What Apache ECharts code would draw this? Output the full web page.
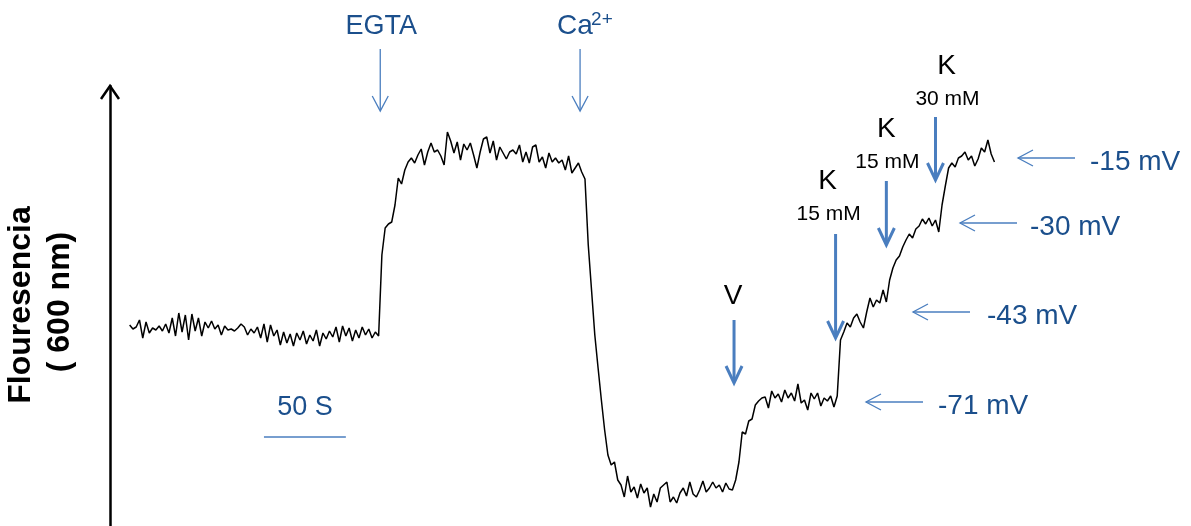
<!DOCTYPE html>
<html><head><meta charset="utf-8">
<script src="https://cdn.jsdelivr.net/npm/echarts@6/dist/echarts.min.js"></script>
<style>html,body{margin:0;padding:0;background:#fff}#c{width:1191px;height:526px}</style>
</head><body><div id="c"></div>
<script>
// ---- Data (fluorescence, arbitrary units; one sample every 2 s) ----
const sampleStart = 12;   // s
const sampleStep = 2;     // s
const baseline = [201,197,199,206,188,204,193,198,196,200,
  195,202,193,208,190,213,194,211,186,212,
  195,208,190,204,198,205,197,201,191,200,
  196,197,195,198,202,199,191,197,193,199,
  188,202,184,201,190,196,181,194,183,192,
  180,193,186,195,182,191,185,196,180,193,
  187,195,189,199,184,200,190,198,185,196,
  188,199,191,197,188,194,190];
const egtaRise = [271,298,302,304,321,348,342,356,364];
const egtaPlateau = [368,363,371,377,361,374,383,374,376,370,
  361,394,385,373,384,366,382,376,383,371,
  358,374,387,389,373,385,366,379,373,367,
  374,376,372,381,364,374,363,379,381,364,
  369,358,373,364,368,363,366,356,370,353,
  358,363,354];
const calciumDrop = [347,281,236,191,158,126,96,71,61,64,46,41,29];
const lowPlateau = [50,34,39,28,42,33,38,19,32,24,
  38,41,44,24,29,23,33,38,30,44,
  32,29,36,45,34,38,44,38,41,34,
  43,37,36,46];
const valinoRise = [64,94,92,105,107,121,125,128,129];
const restPlateau = [118,135,128,132,124,136,128,133,125,142,
  123,126,116,133,127,133,120,128,125,130,
  119,130];
const potassiumSteps = [186,194,203,199,208,212,204,198,214,228,
  219,226,223,236,224,246,258,266,270,279,
  286,292,288,297,300,307,302,308,300,306,
  294];
const potassiumTop = [321,340,358,363,359,368,370,374,366,370,
  360,367,378,374,386,372,364];

// event annotations (time in s)
const eventLabels = ['EGTA', 'Ca', 'V', 'K', 'K', 'K'];
const eventSub = ['', '2+', '', '15 mM', '15 mM', '30 mM'];
const eventTimes = [165, 287, 381, 443, 474, 504];
// membrane potential readings (fluorescence level of each plateau)
const potentialLabels = ['-71 mV', '-43 mV', '-30 mV', '-15 mV'];
const potentialLevels = [124, 214, 303, 368];
const scaleBarStart = 94, scaleBarLength = 50; // s
const scaleBarLabel = '50 S';
const yTitle = ['Flouresencia', '( 600 nm)'];

const trace = [].concat(baseline, egtaRise, egtaPlateau, calciumDrop, lowPlateau,
  valinoRise, restPlateau, potassiumSteps, potassiumTop);
const seriesData = trace.map((v, i) => [sampleStart + sampleStep * i, v]);

const FONT = '"Liberation Sans", Arial, sans-serif';
const TXT_BLUE = '#1b4f8c';
const ARR_BLUE = '#4a7ebf';

const chart = echarts.init(document.getElementById('c'), null, {renderer: 'canvas'});
chart.setOption({
  animation: false,
  grid: {left: 110, right: 0, top: 86, bottom: 0},
  xAxis: {type: 'value', min: 0, max: 660, show: false},
  yAxis: {type: 'value', min: 0, max: 440,
    axisLine: {show: true, onZero: false, lineStyle: {color: '#000', width: 2.5}},
    axisTick: {show: false}, axisLabel: {show: false}, splitLine: {show: false}},
  series: [{type: 'line', data: seriesData, showSymbol: false, silent: true,
    lineStyle: {color: '#000', width: 1.5}}]
});

const P = (t, f) => chart.convertToPixel({gridIndex: 0}, [t, f]);
const g = [];
function line(x1, y1, x2, y2, color, w) {
  g.push({type: 'line', shape: {x1, y1, x2, y2}, style: {stroke: color, lineWidth: w}, silent: true});
}
function poly(points, color, w) {
  g.push({type: 'polyline', shape: {points}, style: {stroke: color, lineWidth: w, fill: null, lineJoin: 'miter'}, silent: true});
}
function text(x, y, s, size, color, align, bold, rot) {
  g.push({type: 'text', x, y, rotation: rot || 0, silent: true,
    style: {text: s, font: (bold ? 'bold ' : '') + size + 'px ' + FONT, fill: color,
      align: align || 'center', verticalAlign: 'middle'}});
}
function downArrow(x, y1, y2, color, w, hw, hh) {
  line(x, y1, x, y2 - 1, color, w);
  poly([[x - hw, y2 - hh], [x, y2], [x + hw, y2 - hh]], color, w);
}
function leftArrow(x1, x2, y, color, w) {
  line(x1, y, x2, y, color, w);
  poly([[x1 + 15, y - 8], [x1, y], [x1 + 15, y + 8]], color, w);
}

// y axis arrow head
const axisTop = P(0, 440);
poly([[axisTop[0] - 9, axisTop[1] + 13], [axisTop[0], axisTop[1]], [axisTop[0] + 9, axisTop[1] + 13]], '#000', 2.5);
// y title
text(21, 305, yTitle[0], 32, '#000', 'center', true, Math.PI / 2);
text(60, 302, yTitle[1], 32, '#000', 'center', true, Math.PI / 2);

// EGTA & Ca2+
let ex = P(eventTimes[0], 0)[0];
text(ex + 1, 27, eventLabels[0], 27, TXT_BLUE);
downArrow(ex, 49, 111, ARR_BLUE, 1.3, 8, 15);
ex = P(eventTimes[1], 0)[0];
text(ex - 23, 26, eventLabels[1], 28, TXT_BLUE, 'left');
text(ex + 11, 20, eventSub[1], 19, TXT_BLUE, 'left');
downArrow(ex, 49, 111, ARR_BLUE, 1.3, 8, 15);
// V
ex = P(eventTimes[2], 0)[0];
text(ex - 1, 296, eventLabels[2], 28, '#000');
downArrow(ex, 320, 383, ARR_BLUE, 3, 8, 17);
// K additions
const kLayout = [[181, 214, 234, 338], [129, 162, 181, 245], [66, 99, 117, 180]];
for (let k = 0; k < 3; k++) {
  ex = P(eventTimes[3 + k], 0)[0];
  const L = kLayout[k];
  const dx = k === 2 ? 11 : (k === 0 ? -8 : 0);
  text(ex + dx, L[0], eventLabels[3 + k], 28, '#000');
  text(ex + dx + 1, L[1], eventSub[3 + k], 21, '#000');
  downArrow(ex, L[2], L[3], ARR_BLUE, 3, 8, 17);
}
// potentials
const potLayout = [[866, 923, 938], [913, 970, 987], [960, 1017, 1030], [1018, 1075, 1090]];
for (let i = 0; i < 4; i++) {
  const py = P(0, potentialLevels[i])[1];
  const L = potLayout[i];
  leftArrow(L[0], L[1], py, ARR_BLUE, 1.3);
  text(L[2], py + 4, potentialLabels[i], 28, TXT_BLUE, 'left');
}
// scale bar
const s0 = P(scaleBarStart, 0)[0], s1 = P(scaleBarStart + scaleBarLength, 0)[0];
line(s0, 437, s1, 437, ARR_BLUE, 1.6);
text((s0 + s1) / 2, 408, scaleBarLabel, 27, TXT_BLUE);

chart.setOption({graphic: g});
</script></body></html>
